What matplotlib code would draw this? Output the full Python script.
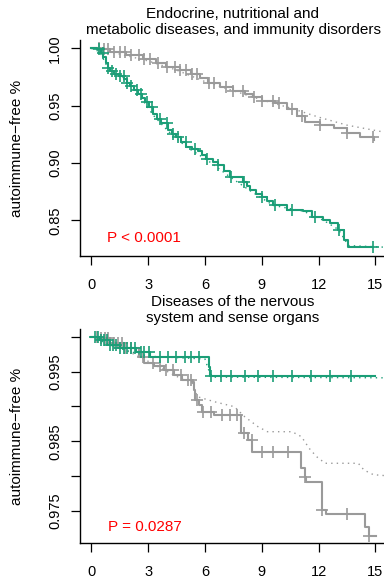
import numpy as np
import matplotlib
matplotlib.use("Agg")
import matplotlib.pyplot as plt

plt.rcParams["font.family"] = ["Liberation Sans", "DejaVu Sans"]
plt.rcParams["font.size"] = 11

green = "#1b9e77"
gray = "#9a9a9a"

# ---- panel 1: endocrine / metabolic / immunity ----
top_title = "Endocrine, nutritional and\nmetabolic diseases, and immunity disorders"
top_p = "P < 0.0001"

top_green_t = [0, 0.3, 0.5, 0.62, 0.75, 0.87, 1.0, 1.22, 1.45, 1.75, 1.9, 2.05, 2.25, 2.45,
               2.65, 2.85, 3.05, 3.25, 3.45, 3.69, 4.04, 4.25, 4.49, 4.75, 5.02, 5.3, 5.63,
               5.85, 6.08, 6.4, 6.69, 7.0, 7.31, 8.02, 8.2, 8.37, 8.7, 8.99, 9.3, 9.61, 10.31,
               11.2, 11.64, 12.26, 12.61, 13.05, 13.32, 13.58, 14.9]
top_green_s = [1.0, 0.999, 0.996, 0.992, 0.987, 0.983, 0.980, 0.978, 0.976, 0.9735, 0.970,
               0.967, 0.964, 0.960, 0.957, 0.953, 0.949, 0.9425, 0.938, 0.9346, 0.9285,
               0.925, 0.9229, 0.9185, 0.9142, 0.9125, 0.9105, 0.907, 0.9032, 0.901, 0.8985,
               0.893, 0.888, 0.8837, 0.880, 0.8764, 0.873, 0.870, 0.867, 0.8633, 0.859,
               0.8584, 0.8532, 0.8503, 0.8474, 0.8416, 0.8328, 0.827, 0.8268]
top_green_cens = [0.4, 0.6, 0.9, 1.1, 1.3, 1.5, 1.7, 1.9, 2.1, 2.4, 2.6, 2.95, 3.2, 3.6, 4.0,
                  4.3, 4.6, 5.0, 5.5, 6.1, 6.7, 7.35, 8.05, 9.0, 9.7, 10.6, 11.8, 13.1, 14.9]
top_green_exp_t = [0, 0.44, 0.87, 1.75, 2.54, 3.25, 4.04, 5.02, 6.08, 7.31, 8.37, 9.61,
                   11.2, 12.26, 13.05, 13.58, 15.6]
top_green_exp_s = [1.0, 0.997, 0.983, 0.974, 0.959, 0.942, 0.928, 0.914, 0.903, 0.888, 0.876,
                   0.863, 0.858, 0.850, 0.842, 0.828, 0.8265]

top_gray_t = [0, 0.44, 0.97, 1.84, 2.72, 3.42, 3.95, 4.66, 5.28, 5.72, 6.16, 6.78, 7.48, 8.1,
              8.54, 8.99, 9.7, 10.31, 10.84, 11.29, 12.08, 12.79, 13.5, 14.2, 14.91]
top_gray_s = [1.0, 0.9995, 0.9971, 0.9942, 0.9904, 0.9875, 0.984, 0.981, 0.9776, 0.9738, 0.970,
              0.9665, 0.963, 0.9601, 0.9573, 0.9543, 0.952, 0.9468, 0.941, 0.936, 0.9331,
              0.9302, 0.9259, 0.9229, 0.920]
top_gray_cens = [0.4, 0.65, 0.9, 1.2, 1.5, 1.8, 2.1, 2.5, 2.8, 3.1, 3.5, 4.0, 4.4, 4.7, 5.0,
                 5.3, 5.6, 6.2, 6.5, 7.1, 7.5, 8.0, 8.6, 9.0, 9.6, 9.9, 10.6, 11.1, 12.1,
                 13.5, 14.9]
top_gray_exp_t = [0, 1.5, 3, 4.5, 6, 7.5, 9, 10.5, 12, 13.5, 15.6]
top_gray_exp_s = [1.0, 0.995, 0.989, 0.981, 0.971, 0.963, 0.955, 0.948, 0.940, 0.933, 0.9265]

# ---- panel 2: nervous system and sense organs ----
bot_title = "Diseases of the nervous\nsystem and sense organs"
bot_p = "P = 0.0287"

bot_green_t = [0, 0.44, 0.97, 1.5, 2.38, 3.1, 6.19, 6.28, 15.0]
bot_green_s = [1.0, 0.99953, 0.99881, 0.99833, 0.99785, 0.99704, 0.99561, 0.99436, 0.99436]
bot_green_cens = [0.2, 0.35, 0.5, 0.65, 0.8, 1.0, 1.15, 1.3, 1.5, 1.7, 1.9, 2.1, 2.3, 2.6,
                  2.8, 3.07, 3.6, 4.04, 4.49, 4.93, 5.28, 5.7, 6.34, 6.87, 7.4, 8.1, 8.81,
                  9.61, 10.6, 11.6, 12.6, 13.7]
bot_green_exp_t = [0, 1.0, 2.0, 3.0, 6.0, 6.2, 6.4, 15.6]
bot_green_exp_s = [1.0, 0.9988, 0.9979, 0.9972, 0.9968, 0.9952, 0.9942, 0.9941]

bot_gray_t = [0, 0.44, 0.97, 1.7, 2.5, 2.77, 3.3, 3.83, 4.36, 4.8, 5.33, 5.42, 5.5, 5.68,
              5.86, 6.48, 7.93, 8.25, 8.51, 11.08, 11.26, 11.35, 12.2, 12.38, 14.48, 14.66,
              15.05]
bot_gray_s = [1.0, 0.99976, 0.99905, 0.99833, 0.99713, 0.99617, 0.9958, 0.99522, 0.9945,
              0.99379, 0.99354, 0.99235, 0.99092, 0.9902, 0.98924, 0.98877, 0.98614, 0.98518,
              0.9835, 0.98112, 0.97991, 0.9792, 0.97514, 0.97452, 0.97274, 0.97141, 0.97141]
bot_gray_cens = [0.3, 0.5, 0.7, 0.9, 1.2, 1.4, 1.6, 1.8, 2.1, 2.72, 3.25, 3.6, 3.95, 4.31,
                 4.75, 5.1, 5.28, 5.58, 5.9, 6.3, 6.9, 7.3, 7.7, 8.07, 8.5, 9.0, 9.6, 10.4,
                 11.3, 12.2, 13.5, 14.66]
bot_gray_exp_t = [0, 1.0, 2.5, 3.8, 4.8, 5.3, 5.6, 6.5, 7.55, 8.1, 8.8, 9.3, 10.6, 11.1,
                  11.5, 11.9, 12.35, 14.1, 14.4, 14.9, 15.6]
bot_gray_exp_s = [1.0, 0.999, 0.9972, 0.9953, 0.9939, 0.9935, 0.99139, 0.99067, 0.98996,
                  0.98852, 0.98709, 0.98637, 0.98637, 0.98565, 0.984, 0.98278, 0.98184,
                  0.98184, 0.98087, 0.9802, 0.98005]

xticks = [0, 3, 6, 9, 12, 15]


def step_at(t, s, tc):
    t = np.asarray(t)
    s = np.asarray(s)
    idx = np.searchsorted(t, tc, side="right") - 1
    return s[np.clip(idx, 0, len(s) - 1)]


def km(ax, t, s, cens, et, es, col):
    ax.plot(et, es, ls=(0, (1, 3)), lw=1.0, color=col)
    ax.step(t, s, where="post", color=col, lw=1.5)
    ax.plot(cens, step_at(t, s, cens), ls="none", marker="+", ms=8, mew=1.2, color=col)


fig = plt.figure(figsize=(3.84, 5.83), dpi=100)
ax1 = fig.add_axes([80 / 384, 1 - 256 / 583, 306.7 / 384, 216 / 583])
ax2 = fig.add_axes([80 / 384, 1 - 543.3 / 583, 306.7 / 384, 214 / 583])

km(ax1, top_gray_t, top_gray_s, top_gray_cens, top_gray_exp_t, top_gray_exp_s, gray)
km(ax1, top_green_t, top_green_s, top_green_cens, top_green_exp_t, top_green_exp_s, green)
km(ax2, bot_gray_t, bot_gray_s, bot_gray_cens, bot_gray_exp_t, bot_gray_exp_s, gray)
km(ax2, bot_green_t, bot_green_s, bot_green_cens, bot_green_exp_t, bot_green_exp_s, green)

ax1.set_ylim(0.8189, 1.00724)
ax1.set_yticks([0.85, 0.90, 0.95, 1.00])
ax1.set_yticklabels(["0.85", "0.90", "0.95", "1.00"])
ax2.set_ylim(0.97036, 1.00106)
ax2.set_yticks([0.975, 0.980, 0.985, 0.990, 0.995, 1.000])
ax2.set_yticklabels(["0.975", "", "0.985", "", "0.995", ""])

for ax in (ax1, ax2):
    ax.set_xlim(-0.6, 15.6)
    ax.set_xticks(xticks)
    ax.set_xticklabels([str(v) for v in xticks])
    ax.spines["top"].set_visible(False)
    ax.spines["right"].set_visible(False)
    ax.spines["left"].set_linewidth(1.0)
    ax.spines["bottom"].set_linewidth(1.0)
    ax.tick_params(axis="x", length=6.5, width=0.9, pad=9, labelsize=10.5)
    ax.tick_params(axis="y", length=6.5, width=0.9, pad=6.5, labelsize=10.5)
    for lab in ax.get_yticklabels():
        lab.set_rotation(90)
        lab.set_va("center")
    ax.patch.set_alpha(0)

ax1.text(2.78, 0.8346, top_p, color="red", ha="center", va="center", fontsize=11)
ax2.text(2.83, 0.97265, bot_p, color="red", ha="center", va="center", fontsize=11)

fig.text(233 / 384, 1 - 22 / 583, top_title, ha="center", va="center", linespacing=1.1)
fig.text(233 / 384, 1 - 310 / 583, bot_title, ha="center", va="center", linespacing=1.2)
fig.text(17 / 384, 1 - 148 / 583, "autoimmune\u2212free %", rotation=90, ha="center", va="center")
fig.text(17 / 384, 1 - 436 / 583, "autoimmune\u2212free %", rotation=90, ha="center", va="center")

fig.savefig("out.png", dpi=100)
